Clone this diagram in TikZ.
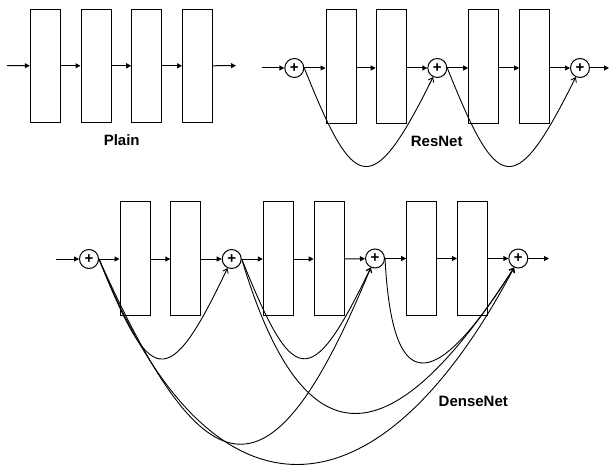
\documentclass[tikz,border=0pt]{standalone}
\usepackage{fontspec}
\setmainfont{Liberation Sans}
\usetikzlibrary{arrows.meta}
\begin{document}
\begin{tikzpicture}[x=1pt,y=-1pt,
  blk/.style={draw, line width=1pt, minimum width=30pt, minimum height=113.5pt, inner sep=0pt},
  sumnode/.style={draw, circle, line width=1pt, minimum size=19pt, inner sep=0pt, font=\fontsize{15}{15}\selectfont\bfseries},
  flow/.style={line width=1pt, -{Triangle[length=5pt,width=5pt]}},
  skip/.style={line width=0.9pt, -{Straight Barb[length=4pt,width=6pt]}},
  lbl/.style={font=\fontsize{15}{18}\selectfont\bfseries}]
\useasboundingbox (0,0) rectangle (609,465);

% ---------------- Plain ----------------
\coordinate (pin) at (7,65.7);
\node[blk] (p1) at (45.3,65.8) {};
\node[blk] (p2) at (96,65.8) {};
\node[blk] (p3) at (146.7,65.8) {};
\node[blk] (p4) at (197.5,65.8) {};
\coordinate (pout) at (236,65.7);
\draw[flow] (pin) -- (p1);
\draw[flow] (p1) -- (p2);
\draw[flow] (p2) -- (p3);
\draw[flow] (p3) -- (p4);
\draw[flow] (p4) -- (pout);
\node[lbl] (plainlbl) at (121.7,140) {Plain};

% ---------------- ResNet ----------------
\coordinate (rin) at (262,68);
\node[sumnode] (r1) at (294.3,68) {+};
\node[blk, minimum height=114pt] (rb1) at (341,66.3) {};
\node[blk, minimum height=114pt] (rb2) at (391.2,66.3) {};
\node[sumnode] (r2) at (437.3,68) {+};
\node[blk, minimum height=114pt] (rb3) at (483.7,66.3) {};
\node[blk, minimum height=114pt] (rb4) at (534.7,66.3) {};
\node[sumnode] (r3) at (580,68) {+};
\coordinate (rout) at (609,68);
\draw[flow] (rin) -- (r1);
\draw[flow] (r1) -- (r1 -| rb1.west);
\draw[flow] (r1 -| rb1.east) -- (r1 -| rb2.west);
\draw[flow] (r1 -| rb2.east) -- (r2);
\draw[flow] (r2) -- (r2 -| rb3.west);
\draw[flow] (r2 -| rb3.east) -- (r2 -| rb4.west);
\draw[flow] (r2 -| rb4.east) -- (r3);
\draw[flow] (r3) -- (rout);
\draw[skip] (r1.east) .. controls +(50,125) and +(-62,125) .. (r2.-115);
\draw[skip] (r2.east) .. controls +(50,125) and +(-62,125) .. (r3.-115);
\node[lbl] (reslbl) at (436.7,141.7) {ResNet};

% ---------------- DenseNet ----------------
\coordinate (din) at (56,259);
\node[sumnode] (d1) at (89,259) {+};
\node[blk, minimum height=113.6pt] (db1) at (135,258.5) {};
\node[blk, minimum height=113.6pt] (db2) at (185.8,258.5) {};
\node[sumnode] (d2) at (231.7,259) {+};
\node[blk, minimum height=113.6pt] (db3) at (278.3,258.5) {};
\node[blk, minimum height=113.6pt] (db4) at (329.2,258.5) {};
\node[sumnode] (d3) at (375,258.5) {+};
\node[blk, minimum height=113.6pt] (db5) at (421.7,258.5) {};
\node[blk, minimum height=113.6pt] (db6) at (472.5,258.5) {};
\node[sumnode] (d4) at (518.3,258.5) {+};
\coordinate (dout) at (549,258.5);
\draw[flow] (din) -- (d1);
\draw[flow] (d1) -- (d1 -| db1.west);
\draw[flow] (d1 -| db1.east) -- (d1 -| db2.west);
\draw[flow] (d1 -| db2.east) -- (d2);
\draw[flow] (d2) -- (d2 -| db3.west);
\draw[flow] (d2 -| db3.east) -- (d2 -| db4.west);
\draw[flow] (d2 -| db4.east) -- (d3);
\draw[flow] (d3) -- (d3 -| db5.west);
\draw[flow] (d3 -| db5.east) -- (d3 -| db6.west);
\draw[flow] (d3 -| db6.east) -- (d4);
\draw[flow] (d4) -- (dout);
% skips from d1
\draw[skip] (d1.east) .. controls +(51,127) and +(-60,127) .. (d2.-115);
\draw[skip] (d1.east) .. controls +(108,241) and +(-99,241) .. (d3.-115);
\draw[skip] (d1.east) .. controls +(107,268) and +(-142,268) .. (d4.-115);
% skips from d2
\draw[skip] (d2.east) .. controls +(51,127) and +(-61,127) .. (d3.-115);
\draw[skip] (d2.east) .. controls +(60,200) and +(-128,200) .. (d4.-115);
% skip from d3
\draw[skip] (d3.east) .. controls +(7,133) and +(-84,133) .. (d4.-115);
\node[lbl] (denselbl) at (473.3,401.7) {DenseNet};
\end{tikzpicture}
\end{document}
